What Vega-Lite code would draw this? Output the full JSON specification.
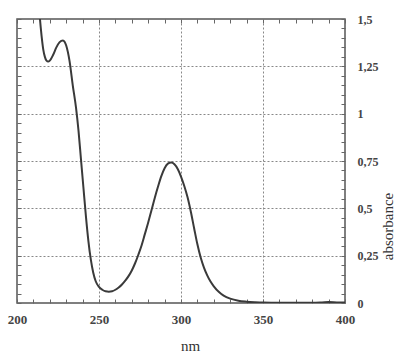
{
  "$schema": "https://vega.github.io/schema/vega-lite/v6.json",
  "width": 328,
  "height": 284,
  "autosize": {"type": "none"},
  "padding": {"left": 17, "top": 19, "right": 63, "bottom": 54},
  "background": "white",
  "config": {
    "view": {"stroke": "#555", "strokeWidth": 1.5},
    "font": "Liberation Serif",
    "axis": {"labelFont": "Liberation Serif", "titleFont": "Liberation Serif"}
  },
  "data": {"values": [
    {"nm": 213, "a": 1.62}, {"nm": 214, "a": 1.5}, {"nm": 215, "a": 1.41}, {"nm": 216, "a": 1.34},
    {"nm": 217, "a": 1.3}, {"nm": 218, "a": 1.28}, {"nm": 219, "a": 1.275}, {"nm": 220, "a": 1.28},
    {"nm": 222, "a": 1.31}, {"nm": 224, "a": 1.35}, {"nm": 226, "a": 1.378}, {"nm": 228, "a": 1.387},
    {"nm": 229, "a": 1.38}, {"nm": 230, "a": 1.36}, {"nm": 232, "a": 1.28}, {"nm": 234, "a": 1.15},
    {"nm": 236, "a": 1.03}, {"nm": 237.5, "a": 0.91}, {"nm": 239, "a": 0.76}, {"nm": 240.5, "a": 0.61},
    {"nm": 242, "a": 0.46}, {"nm": 243.5, "a": 0.33}, {"nm": 245, "a": 0.23}, {"nm": 246.5, "a": 0.16},
    {"nm": 248, "a": 0.115}, {"nm": 250, "a": 0.085}, {"nm": 252, "a": 0.07}, {"nm": 254, "a": 0.062},
    {"nm": 256, "a": 0.06}, {"nm": 258, "a": 0.062}, {"nm": 260, "a": 0.07}, {"nm": 262, "a": 0.082},
    {"nm": 264, "a": 0.098}, {"nm": 266, "a": 0.118}, {"nm": 268, "a": 0.142}, {"nm": 270, "a": 0.172},
    {"nm": 272, "a": 0.21}, {"nm": 274, "a": 0.255}, {"nm": 276, "a": 0.305}, {"nm": 278, "a": 0.365},
    {"nm": 280, "a": 0.425}, {"nm": 282, "a": 0.49}, {"nm": 284, "a": 0.555}, {"nm": 286, "a": 0.615},
    {"nm": 288, "a": 0.67}, {"nm": 290, "a": 0.712}, {"nm": 292, "a": 0.736}, {"nm": 294, "a": 0.742},
    {"nm": 296, "a": 0.733}, {"nm": 298, "a": 0.708}, {"nm": 300, "a": 0.668}, {"nm": 302, "a": 0.618},
    {"nm": 304, "a": 0.558}, {"nm": 306, "a": 0.482}, {"nm": 308, "a": 0.395}, {"nm": 310, "a": 0.31},
    {"nm": 312, "a": 0.24}, {"nm": 314, "a": 0.187}, {"nm": 316, "a": 0.146}, {"nm": 318, "a": 0.113},
    {"nm": 320, "a": 0.088}, {"nm": 323, "a": 0.059}, {"nm": 326, "a": 0.039}, {"nm": 330, "a": 0.023},
    {"nm": 335, "a": 0.012}, {"nm": 340, "a": 0.007}, {"nm": 345, "a": 0.004}, {"nm": 350, "a": 0.002},
    {"nm": 360, "a": 0.001}, {"nm": 370, "a": 0.001}, {"nm": 380, "a": 0.001}, {"nm": 386, "a": 0.003},
    {"nm": 390, "a": 0.005}, {"nm": 395, "a": 0.003}, {"nm": 400, "a": 0.002}
  ]},
  "resolve": {"axis": {"x": "independent", "y": "independent"}},
  "layer": [
    {
      "mark": {"type": "line", "opacity": 0, "clip": true},
      "encoding": {
        "x": {"field": "nm", "type": "quantitative", "scale": {"domain": [200, 400], "nice": false},
          "axis": {"orient": "top", "values": [200,210,220,230,240,250,260,270,280,290,300,310,320,330,340,350,360,370,380,390,400],
            "labels": false, "grid": false, "domain": false, "tickSize": -4, "tickColor": "#666", "title": null}},
        "y": {"field": "a", "type": "quantitative", "scale": {"domain": [0, 1.5], "nice": false},
          "axis": {"orient": "left", "values": [0,0.05,0.1,0.15,0.2,0.25,0.3,0.35,0.4,0.45,0.5,0.55,0.6,0.65,0.7,0.75,0.8,0.85,0.9,0.95,1,1.05,1.1,1.15,1.2,1.25,1.3,1.35,1.4,1.45,1.5],
            "labels": false, "grid": false, "domain": false, "tickSize": -4, "tickColor": "#666", "title": null}}
      }
    },
    {
      "mark": {"type": "line", "color": "#3a3a3a", "strokeWidth": 2, "clip": true, "interpolate": "monotone"},
      "encoding": {
        "x": {"field": "nm", "type": "quantitative", "scale": {"domain": [200, 400], "nice": false},
          "axis": {"orient": "bottom", "values": [200,210,220,230,240,250,260,270,280,290,300,310,320,330,340,350,360,370,380,390,400],
            "labelExpr": "datum.value % 50 == 0 ? datum.label : ''",
            "labelOverlap": false, "labelFlush": false, "labelFont": "Liberation Serif", "labelFontSize": 13, "labelFontWeight": "bold", "labelColor": "#444", "labelPadding": 14,
            "domain": false, "tickSize": -4, "tickColor": "#666",
            "grid": true, "gridDash": [2, 2], "gridColor": "#888", "gridWidth": 1,
            "gridOpacity": {"condition": {"test": "datum.value % 50 == 0 && datum.value > 200 && datum.value < 400", "value": 1}, "value": 0},
            "title": "nm", "titleFont": "Liberation Serif", "titleFontSize": 15, "titleFontWeight": "normal", "titleColor": "#333",
            "titleX": 173, "titleY": 42, "titleBaseline": "middle", "titleAlign": "center"}},
        "y": {"field": "a", "type": "quantitative", "scale": {"domain": [0, 1.5], "nice": false},
          "axis": {"orient": "right", "values": [0,0.05,0.1,0.15,0.2,0.25,0.3,0.35,0.4,0.45,0.5,0.55,0.6,0.65,0.7,0.75,0.8,0.85,0.9,0.95,1,1.05,1.1,1.15,1.2,1.25,1.3,1.35,1.4,1.45,1.5],
            "labelExpr": "round(datum.value*100) % 25 == 0 ? replace(format(datum.value, '~g'), '.', ',') : ''",
            "labelOverlap": false, "labelFlush": false, "labelFont": "Liberation Serif", "labelFontSize": 12, "labelFontWeight": "bold", "labelColor": "#444", "labelPadding": 16,
            "domain": false, "tickSize": -4, "tickColor": "#666",
            "grid": true, "gridDash": [2, 2], "gridColor": "#888", "gridWidth": 1,
            "gridOpacity": {"condition": {"test": "round(datum.value*100) % 25 == 0 && datum.value > 0 && datum.value < 1.5", "value": 1}, "value": 0},
            "title": "absorbance", "titleFont": "Liberation Serif", "titleFontSize": 15, "titleFontWeight": "normal", "titleColor": "#333",
            "titleAngle": 270, "titleX": 42, "titleY": 207, "titleBaseline": "middle", "titleAlign": "center"}}
      }
    }
  ]
}
